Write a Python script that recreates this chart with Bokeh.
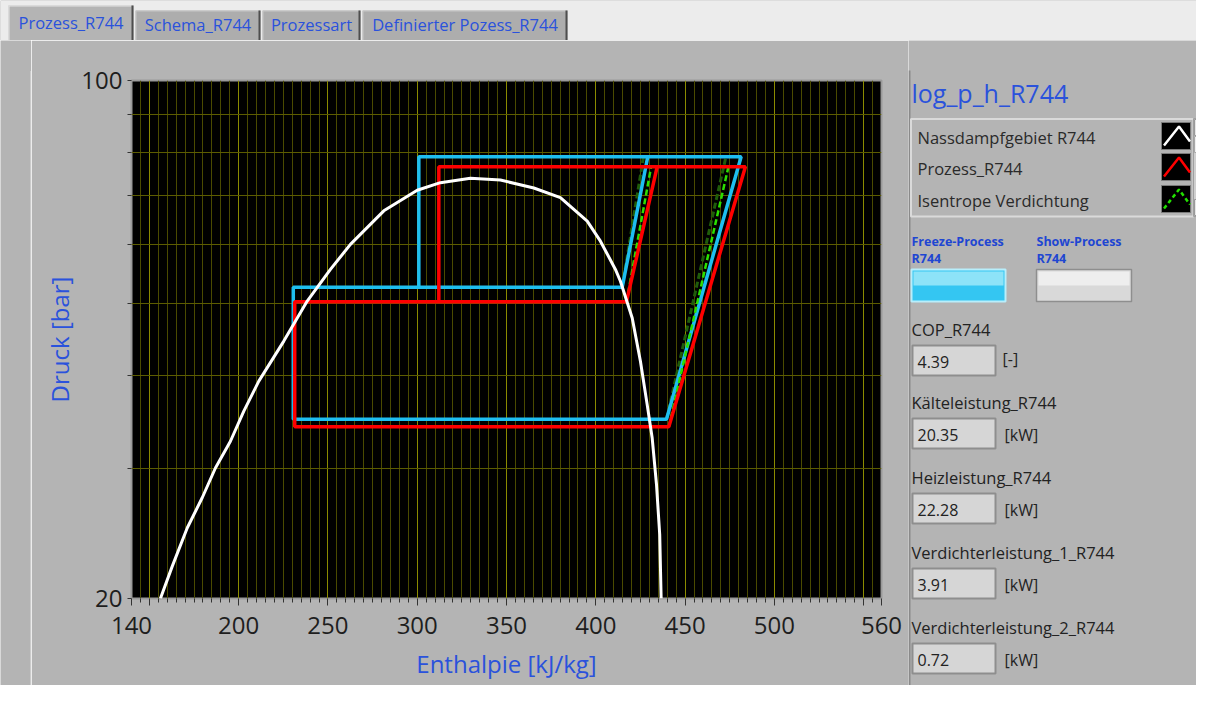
from bokeh.plotting import figure
from bokeh.layouts import column, row
from bokeh.models import FixedTicker, Range1d
from bokeh.core.properties import value
from bokeh.embed import file_html
from bokeh.resources import INLINE

# ---------------- data ----------------
# saturation dome (Nassdampfgebiet R744): enthalpy [kJ/kg], pressure [bar]
sat_h = [156.2, 162.8, 171.2, 179.6, 187.0, 195.4, 202.9, 211.3, 225.3, 238.4, 251.4,
         262.6, 281.3, 300.0, 313.0, 329.8, 346.6, 365.3, 380.2, 395.2, 402.6, 411.0,
         413.8, 420.4, 425.0, 428.8, 431.6, 434.0, 435.8, 436.6]
sat_p = [20.0, 22.1, 24.9, 27.35, 30.0, 32.6, 35.8, 39.3, 44.5, 50.4, 55.6,
         60.1, 66.7, 71.1, 72.8, 73.8, 73.4, 71.6, 69.5, 64.6, 60.7, 55.6,
         53.6, 47.8, 41.8, 36.5, 32.9, 28.5, 24.4, 20.0]

# Prozess_R744 (red)
proc_h = [312.1, 312.1, 483.8, 440.9, 231.4, 231.4, 417.2, 434.4]
proc_p = [50.3, 76.5, 76.5, 34.1, 34.1, 50.3, 50.3, 76.5]

# frozen process (cyan)
frz_h = [300.9, 300.9, 481.4, 439.6, 230.6, 230.6, 414.8, 429.1]
frz_p = [52.6, 78.9, 78.9, 34.9, 34.9, 52.6, 52.6, 78.9]

# Isentrope Verdichtung (bright green) for current process
isen_h = [[440.9, 474.3], [417.2, 431.0]]
isen_p = [[34.1, 76.5], [50.3, 76.5]]
# isentropes of the frozen process (dark green)
isen_frz_h = [[439.6, 472.9], [414.8, 426.7]]
isen_frz_p = [[34.9, 78.9], [52.6, 78.9]]

x_major = [140, 150, 200, 250, 300, 350, 400, 450, 500, 550, 560]
x_minor = [v for v in range(145, 560, 5) if v not in x_major]
y_major = [20, 100]
y_minor = [30, 40, 50, 60, 70, 80, 90]

tabs = ["Prozess_R744", "Schema_R744", "Prozessart", "Definierter Pozess_R744"]
legend_items = ["Nassdampfgebiet R744", "Prozess_R744", "Isentrope Verdichtung"]
ind_names = ["COP_R744", "Kälteleistung_R744", "Heizleistung_R744",
             "Verdichterleistung_1_R744", "Verdichterleistung_2_R744"]
ind_values = ["4.39", "20.35", "22.28", "3.91", "0.72"]
ind_units = ["[-]", "[kW]", "[kW]", "[kW]", "[kW]"]

# ---------------- style ----------------
BG = "#B4B4B4"
BLUE = "#2A52DC"
FONT = "Open Sans"
W, H = 1196, 685
TOP_H = 40


def canvas_fig(x0, x1, y0, y1):
    """A decoration canvas whose data units are page pixels (y downwards)."""
    f = figure(width=x1 - x0, height=y1 - y0, x_range=Range1d(x0, x1),
               y_range=Range1d(y1, y0), output_backend="svg", toolbar_location=None,
               x_axis_location=None, y_axis_location=None, frame_align=False,
               min_border=0, background_fill_color=BG, border_fill_color=BG,
               outline_line_color=None)
    f.grid.visible = False
    return f


def txt(f, x, y, s, size="16px", color="#222222", style="normal", align="left"):
    f.text([x], [y], text=[s], text_font=value(FONT), text_font_size=value(size),
           text_color=color, text_font_style=style, text_align=align,
           text_baseline="middle")


def rect(f, l, t, r, b, fill=None, line=None, lw=1):
    f.quad(left=[l], right=[r], top=[t], bottom=[b],
           fill_color=fill, fill_alpha=1 if fill else 0,
           line_color=line, line_alpha=1 if line else 0, line_width=lw)


# ---------------- tab strip (top) ----------------
top = canvas_fig(0, W, 0, TOP_H)
rect(top, 0, 0, W, 40, fill="#ECECEC")
tab_x = [(8, 133), (135, 260), (262, 360), (362, 567)]
for i, ((l, r), name) in enumerate(zip(tab_x, tabs)):
    t = 5 if i == 0 else 10
    rect(top, l, t, r, 40, fill=BG if i == 0 else "#ADADAD")
    top.line([l + 0.5, l + 0.5, r - 2], [40, t + 0.5, t + 0.5],
             line_color="#E4E4E4" if i == 0 else "#C8C8C8", line_width=1)
    rect(top, r - 2, t, r, 40, fill="#4E4E4E")
    txt(top, (l + r) / 2, 21.5 if i == 0 else 23.5, name, size="16.5px", color=BLUE,
        align="center")

# left strip with the left edge of the chart container
left = canvas_fig(0, 31, TOP_H, H)
left.line([30.5, 30.5, 31], [H, 70.5, 70.5], line_color="#E2E2E2", line_width=1)

# ---------------- chart ----------------
p = figure(frame_width=750, frame_height=518, y_axis_type="log",
           x_range=Range1d(140, 560), y_range=Range1d(20, 100),
           output_backend="svg", toolbar_location=None, frame_align=False,
           min_border_left=100, min_border_right=27,
           min_border_top=40, min_border_bottom=87,
           background_fill_color="black", border_fill_color=BG,
           outline_line_color="#9A9A9A", outline_line_width=2)

xa = p.xaxis[0]
xa.ticker = FixedTicker(ticks=x_major, minor_ticks=x_minor)
xa.major_label_overrides = {150: "", 550: ""}
ya = p.yaxis[0]
ya.ticker = FixedTicker(ticks=y_major, minor_ticks=y_minor)
ya.major_label_overrides = {20: "20", 100: "100"}

for ax in (xa, ya):
    ax.axis_line_color = None
    ax.major_tick_line_color = "#333333"
    ax.minor_tick_line_color = "#333333"
    ax.major_tick_in = 0
    ax.minor_tick_in = 0
    ax.major_label_text_font = FONT
    ax.major_label_text_font_size = "24px"
    ax.major_label_text_color = "#1E1E1E"
    ax.axis_label_text_font = FONT
    ax.axis_label_text_font_size = "24px"
    ax.axis_label_text_font_style = "normal"
    ax.axis_label_text_color = BLUE

xa.major_tick_out = 7
xa.minor_tick_out = 4
xa.major_label_standoff = 11
xa.axis_label = "Enthalpie [kJ/kg]"
xa.axis_label_standoff = 10
ya.major_tick_out = 4
ya.minor_tick_out = 4
ya.major_label_standoff = 5
ya.axis_label = "Druck [bar]"
ya.axis_label_standoff = 2

p.xgrid.grid_line_color = "#8A8A00"
p.xgrid.minor_grid_line_color = "#4A4A00"
p.ygrid.grid_line_color = None
p.ygrid.minor_grid_line_color = "#5C5C00"

p.multi_line(isen_frz_h, isen_frz_p, line_color="#1F5C0A", line_width=3, line_dash="6 3")
p.line(frz_h, frz_p, line_color="#1EBEF0", line_width=3.5)
p.multi_line(isen_h, isen_p, line_color="#2BE000", line_width=2.5, line_dash="6 3")
p.line(proc_h, proc_p, line_color="#FF0000", line_width=3.5)
p.line(sat_h, sat_p, line_color="white", line_width=3)

# ---------------- right panel ----------------
pan = canvas_fig(908, W, TOP_H, H)
rect(pan, 908, 70, 910, H, fill="#8A8A8A")
txt(pan, 911, 92, "log_p_h_R744", size="25px", color=BLUE)

# legend
rect(pan, 910.5, 118.5, 1193, 216, line="#DADADA", lw=2)
leg_y = [137, 168, 200]
leg_col = ["white", "#FF0000", "#22E000"]
for yy, name, col in zip(leg_y, legend_items, leg_col):
    txt(pan, 917, yy, name, size="16.5px", color="#2A2A2A")
    t0 = yy - 15
    rect(pan, 1161, t0, 1190, t0 + 27, fill="black", line="#7A7A7A")
    pan.line([1163.5, 1178.5, 1189.5], [t0 + 23, t0 + 4, t0 + 19], line_color=col,
             line_width=2.5, line_dash="4 3" if col == "#22E000" else "solid")
# scrollbar
rect(pan, 1193, 118, 1210, 216, fill="#CFCFCF", line="#A0A0A0")
rect(pan, 1194, 119, 1209, 135, fill="#E6E6E6", line="#9A9A9A")
rect(pan, 1194, 136, 1209, 152, fill="#EFEFEF", line="#A8A8A8")
rect(pan, 1194, 199, 1209, 215, fill="#E6E6E6", line="#9A9A9A")

# buttons
for bx, name in [(911, "Freeze-Process"), (1036, "Show-Process")]:
    txt(pan, bx, 241, name, size="12.5px", color="#1E46D2", style="bold")
    txt(pan, bx, 258, "R744", size="12.5px", color="#1E46D2", style="bold")
rect(pan, 911, 269, 1005, 301, fill="#34C6F2", line="#B8EEFB", lw=2)
rect(pan, 913, 271, 1003, 285, fill="#8DE3F8")
rect(pan, 1036, 269, 1131, 301, fill="#D9D9D9", line="#8E8E8E", lw=1.5)
rect(pan, 1038, 271, 1129, 285, fill="#EEEEEE")

# numeric indicators
lab_y = [329, 402, 477, 552, 627]
for yy, name, val, unit in zip(lab_y, ind_names, ind_values, ind_units):
    txt(pan, 911, yy, name, size="16.5px", color="#222222")
    bt = yy + 15
    rect(pan, 912, bt + 1, 995, bt + 31, fill="#D6D6D6", line="#8E8E8E", lw=2)
    txt(pan, 917, bt + 17, val, size="16px", color="#222222")
    txt(pan, 1002 if unit == "[-]" else 1004, bt + (14 if unit == "[-]" else 17), unit,
        size="16px", color="#222222")

layout = column(top, row(left, p, pan, spacing=0), spacing=0)
open("out.html", "w").write(file_html(layout, INLINE))
